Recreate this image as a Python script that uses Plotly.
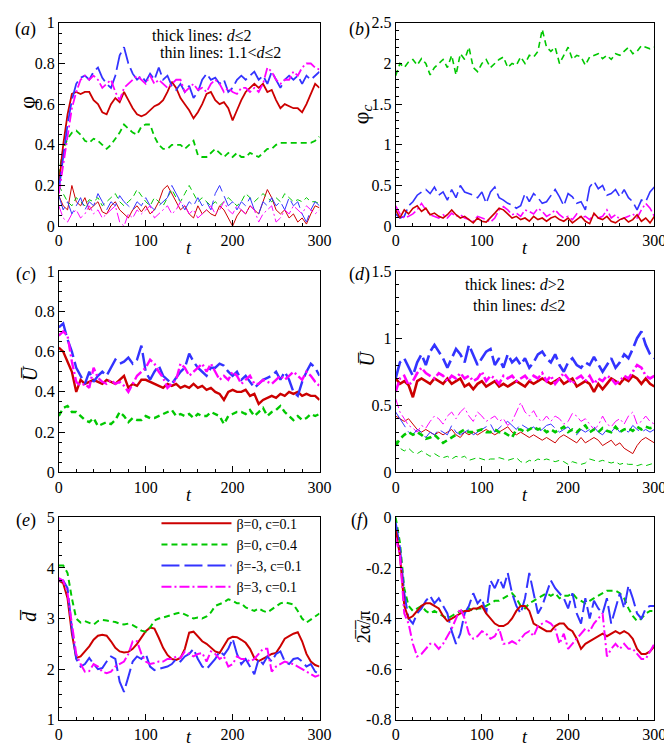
import plotly.graph_objects as go

T = list(range(0, 301, 5))

# ---------------- panel (a): phi ----------------
a_red_thick = [0.20,0.40,0.55,0.65,0.66,0.65,0.66,0.66,0.62,0.60,0.56,0.55,0.60,0.63,0.61,0.66,0.62,0.58,0.55,0.54,
               0.55,0.57,0.59,0.60,0.62,0.66,0.71,0.68,0.63,0.60,0.57,0.53,0.56,0.60,0.65,0.66,0.62,0.60,0.61,0.58,
               0.52,0.57,0.62,0.66,0.68,0.70,0.68,0.70,0.66,0.67,0.62,0.58,0.60,0.59,0.58,0.58,0.56,0.60,0.65,0.70,0.68]
a_green_thick = [0.25,0.38,0.43,0.46,0.47,0.45,0.42,0.41,0.43,0.42,0.40,0.38,0.40,0.43,0.46,0.50,0.48,0.46,0.45,0.49,
                 0.50,0.50,0.44,0.40,0.38,0.38,0.40,0.40,0.40,0.38,0.40,0.42,0.35,0.34,0.34,0.36,0.38,0.36,0.34,0.36,
                 0.34,0.36,0.34,0.34,0.36,0.35,0.34,0.36,0.38,0.38,0.40,0.41,0.41,0.41,0.41,0.41,0.41,0.41,0.41,0.42,0.44]
a_blue_thick = [0.18,0.35,0.50,0.62,0.70,0.73,0.74,0.72,0.76,0.78,0.73,0.70,0.68,0.74,0.84,0.88,0.80,0.75,0.72,0.74,
                0.71,0.75,0.72,0.78,0.72,0.74,0.69,0.67,0.70,0.66,0.69,0.63,0.66,0.72,0.75,0.72,0.73,0.70,0.72,0.66,
                0.68,0.72,0.74,0.72,0.74,0.76,0.72,0.74,0.70,0.76,0.72,0.68,0.72,0.74,0.72,0.74,0.70,0.74,0.72,0.74,0.76]
a_mag_thick = [0.16,0.30,0.45,0.58,0.66,0.72,0.74,0.72,0.74,0.72,0.68,0.70,0.72,0.66,0.62,0.68,0.70,0.72,0.74,0.72,
               0.70,0.74,0.70,0.72,0.70,0.68,0.70,0.72,0.72,0.66,0.68,0.70,0.67,0.68,0.66,0.70,0.72,0.70,0.66,0.68,
               0.66,0.65,0.68,0.68,0.66,0.68,0.66,0.70,0.78,0.76,0.72,0.70,0.72,0.72,0.76,0.74,0.78,0.80,0.80,0.78,0.77]
a_red_thin = [0.15,0.10,0.08,0.20,0.12,0.10,0.14,0.08,0.10,0.12,0.07,0.06,0.10,0.12,0.08,0.06,0.04,0.08,0.10,0.07,
              0.10,0.06,0.08,0.12,0.18,0.20,0.16,0.12,0.08,0.10,0.06,0.04,0.10,0.06,0.08,0.06,0.05,0.10,0.08,0.04,
              0.00,0.05,0.08,0.06,0.10,0.08,0.06,0.12,0.18,0.14,0.08,0.06,0.08,0.04,0.06,0.02,0.04,0.01,0.06,0.10,0.09]
a_green_thin = [0.20,0.16,0.12,0.10,0.14,0.12,0.10,0.13,0.12,0.14,0.10,0.12,0.14,0.16,0.12,0.10,0.12,0.14,0.18,0.15,
                0.12,0.10,0.14,0.12,0.10,0.14,0.18,0.14,0.12,0.16,0.20,0.16,0.12,0.14,0.12,0.10,0.12,0.10,0.12,0.14,
                0.12,0.10,0.12,0.16,0.14,0.12,0.14,0.16,0.14,0.12,0.14,0.12,0.16,0.14,0.12,0.13,0.12,0.14,0.12,0.12,0.11]
a_blue_thin = [0.15,0.08,0.12,0.06,0.10,0.14,0.08,0.12,0.10,0.16,0.12,0.08,0.12,0.10,0.15,0.12,0.10,0.08,0.12,0.10,
               0.14,0.10,0.08,0.10,0.12,0.14,0.20,0.16,0.12,0.08,0.12,0.10,0.14,0.10,0.12,0.08,0.16,0.20,0.15,0.10,
               0.12,0.08,0.12,0.10,0.14,0.08,0.06,0.12,0.10,0.14,0.10,0.12,0.08,0.14,0.10,0.12,0.06,0.02,0.08,0.12,0.10]
a_mag_thin = [0.10,0.04,0.02,0.06,0.08,0.04,0.06,0.10,0.06,0.08,0.04,0.06,0.08,0.10,0.02,0.00,0.06,0.04,0.08,0.06,
              0.08,0.10,0.04,0.06,0.08,0.10,0.06,0.08,0.12,0.10,0.06,0.08,0.04,0.06,0.08,0.10,0.06,0.08,0.12,0.08,
              0.06,0.10,0.08,0.06,0.10,0.08,0.02,0.06,0.08,0.10,0.02,0.04,0.08,0.06,0.10,0.08,0.06,0.10,0.08,0.06,0.08]

# ---------------- panel (b): phi_c ----------------
b_green = [1.85,2.00,1.95,2.02,2.05,1.98,2.06,2.00,1.86,1.95,2.00,2.05,1.95,2.10,1.86,2.12,2.05,2.20,1.95,1.90,
           2.00,2.05,1.95,2.00,2.05,2.08,1.95,2.00,1.98,2.08,2.00,2.10,2.08,2.15,2.42,2.20,2.15,2.20,2.00,2.10,
           2.20,2.05,2.10,2.08,1.98,2.08,2.10,2.12,2.06,2.10,2.05,2.12,2.10,2.15,2.20,2.12,2.15,2.22,2.20,2.18,2.20]
b_blue = [0.15,0.10,0.12,0.25,0.30,0.38,0.42,0.45,0.40,0.48,0.38,0.42,0.32,0.45,0.35,0.50,0.42,0.40,0.38,0.35,
          0.42,0.28,0.42,0.48,0.35,0.32,0.28,0.26,0.22,0.25,0.40,0.30,0.40,0.35,0.28,0.30,0.38,0.45,0.36,0.25,
          0.40,0.36,0.28,0.30,0.20,0.48,0.55,0.46,0.50,0.38,0.40,0.45,0.36,0.45,0.35,0.30,0.20,0.32,0.30,0.42,0.48]
b_red = [0.20,0.10,0.20,0.15,0.22,0.25,0.18,0.22,0.14,0.16,0.12,0.10,0.14,0.20,0.14,0.10,0.12,0.08,0.04,0.10,
         0.06,0.05,0.10,0.16,0.22,0.20,0.15,0.10,0.12,0.08,0.10,0.06,0.12,0.08,0.10,0.06,0.10,0.12,0.08,0.06,
         0.10,0.04,0.08,0.12,0.06,0.03,0.16,0.10,0.08,0.12,0.06,0.04,0.08,0.10,0.05,0.08,0.14,0.06,0.10,0.04,0.12]
b_mag = [0.25,0.15,0.10,0.12,0.15,0.20,0.28,0.20,0.14,0.12,0.10,0.14,0.10,0.16,0.12,0.14,0.10,0.08,0.06,0.12,
         0.10,0.08,0.05,0.10,0.20,0.24,0.20,0.14,0.16,0.12,0.20,0.18,0.15,0.22,0.18,0.12,0.15,0.20,0.14,0.10,
         0.12,0.08,0.15,0.10,0.12,0.08,0.14,0.10,0.12,0.20,0.10,0.14,0.08,0.10,0.12,0.15,0.10,0.20,0.28,0.22,0.12]

# ---------------- panel (c): U bar ----------------
c_red = [0.62,0.60,0.55,0.50,0.40,0.46,0.44,0.45,0.46,0.45,0.44,0.46,0.45,0.44,0.46,0.48,0.42,0.44,0.43,0.46,
         0.46,0.45,0.44,0.43,0.42,0.44,0.43,0.44,0.42,0.43,0.42,0.44,0.42,0.43,0.41,0.42,0.40,0.39,0.36,0.40,
         0.41,0.40,0.40,0.41,0.38,0.39,0.34,0.36,0.37,0.38,0.37,0.39,0.38,0.40,0.39,0.40,0.38,0.39,0.38,0.38,0.36]
c_green = [0.28,0.32,0.33,0.30,0.30,0.28,0.26,0.25,0.27,0.23,0.24,0.25,0.24,0.26,0.30,0.28,0.25,0.27,0.26,0.26,
           0.28,0.27,0.27,0.28,0.29,0.30,0.31,0.28,0.29,0.28,0.29,0.27,0.29,0.28,0.28,0.30,0.29,0.28,0.24,0.28,
           0.29,0.30,0.30,0.29,0.31,0.28,0.30,0.32,0.28,0.30,0.31,0.33,0.30,0.28,0.26,0.28,0.26,0.27,0.29,0.28,0.29]
c_blue = [0.72,0.74,0.66,0.60,0.52,0.48,0.44,0.50,0.45,0.48,0.50,0.48,0.52,0.56,0.54,0.55,0.57,0.54,0.56,0.63,
          0.50,0.46,0.50,0.53,0.48,0.46,0.44,0.47,0.50,0.52,0.59,0.55,0.52,0.50,0.48,0.52,0.52,0.54,0.53,0.50,
          0.48,0.50,0.46,0.48,0.45,0.42,0.44,0.46,0.47,0.48,0.50,0.46,0.50,0.46,0.40,0.38,0.45,0.50,0.54,0.52,0.48]
c_mag = [0.68,0.70,0.68,0.55,0.45,0.43,0.44,0.42,0.52,0.47,0.45,0.44,0.46,0.44,0.45,0.43,0.40,0.44,0.48,0.50,
         0.52,0.56,0.54,0.50,0.47,0.42,0.44,0.46,0.54,0.52,0.48,0.50,0.52,0.54,0.50,0.54,0.50,0.46,0.48,0.46,
         0.50,0.48,0.44,0.46,0.48,0.44,0.44,0.46,0.45,0.44,0.46,0.48,0.46,0.48,0.50,0.48,0.46,0.50,0.48,0.45,0.43]

# ---------------- panel (d): U bar, d>2 (thick) and d<=2 (thin) ----------------
d_blue_thick = [0.70,0.82,0.85,0.78,0.72,0.82,0.88,0.80,0.90,0.95,0.90,0.85,0.78,0.85,0.92,0.88,0.82,0.95,0.88,0.80,
                0.85,0.90,0.92,0.80,0.85,0.78,0.88,0.82,0.85,0.80,0.85,0.78,0.82,0.88,0.90,0.85,0.82,0.88,0.80,0.75,
                0.82,0.85,0.80,0.78,0.82,0.80,0.86,0.80,0.75,0.80,0.85,0.78,0.82,0.88,0.85,0.92,1.00,1.05,0.95,0.88,0.85]
d_mag_thick = [0.60,0.70,0.72,0.65,0.68,0.74,0.78,0.74,0.72,0.70,0.74,0.72,0.68,0.72,0.70,0.74,0.70,0.72,0.68,0.70,
               0.75,0.68,0.72,0.70,0.66,0.72,0.70,0.72,0.68,0.70,0.72,0.68,0.72,0.70,0.74,0.68,0.72,0.66,0.70,0.74,
               0.70,0.66,0.70,0.72,0.68,0.72,0.66,0.70,0.68,0.72,0.70,0.66,0.68,0.72,0.70,0.75,0.80,0.78,0.72,0.70,0.72]
d_red_thick = [0.70,0.66,0.68,0.65,0.56,0.68,0.70,0.68,0.66,0.70,0.68,0.66,0.70,0.66,0.68,0.70,0.64,0.66,0.62,0.66,
               0.68,0.64,0.66,0.68,0.64,0.66,0.64,0.66,0.68,0.66,0.64,0.68,0.66,0.68,0.70,0.68,0.66,0.68,0.70,0.66,
               0.68,0.70,0.64,0.66,0.68,0.66,0.60,0.66,0.62,0.66,0.70,0.68,0.66,0.70,0.68,0.72,0.70,0.66,0.70,0.66,0.64]
d_green_thick = [0.20,0.25,0.28,0.30,0.28,0.30,0.28,0.25,0.26,0.28,0.25,0.22,0.24,0.26,0.28,0.30,0.32,0.30,0.30,0.31,
                 0.32,0.30,0.30,0.32,0.30,0.30,0.28,0.26,0.32,0.32,0.30,0.32,0.34,0.32,0.33,0.30,0.32,0.30,0.32,0.34,
                 0.30,0.32,0.30,0.33,0.35,0.30,0.32,0.30,0.33,0.31,0.30,0.34,0.30,0.32,0.33,0.31,0.34,0.32,0.34,0.33,0.34]
d_mag_thin = [0.55,0.45,0.40,0.35,0.33,0.30,0.35,0.33,0.38,0.42,0.40,0.36,0.42,0.45,0.40,0.45,0.48,0.42,0.38,0.45,
              0.42,0.38,0.40,0.42,0.38,0.40,0.35,0.38,0.45,0.52,0.45,0.42,0.46,0.40,0.38,0.42,0.38,0.42,0.40,0.36,
              0.38,0.44,0.42,0.38,0.40,0.36,0.32,0.35,0.42,0.36,0.34,0.38,0.40,0.36,0.42,0.45,0.36,0.38,0.42,0.38,0.36]
d_blue_thin = [0.45,0.40,0.35,0.30,0.28,0.32,0.30,0.26,0.30,0.28,0.32,0.30,0.28,0.35,0.30,0.28,0.30,0.32,0.28,0.30,
               0.32,0.34,0.36,0.30,0.33,0.36,0.38,0.35,0.32,0.36,0.34,0.32,0.34,0.30,0.32,0.35,0.36,0.33,0.30,0.32,
               0.34,0.30,0.28,0.32,0.30,0.32,0.34,0.30,0.28,0.32,0.30,0.34,0.30,0.32,0.30,0.35,0.32,0.30,0.32,0.30,0.32]
d_red_thin = [0.42,0.40,0.38,0.40,0.36,0.32,0.30,0.32,0.30,0.28,0.30,0.28,0.30,0.32,0.28,0.26,0.30,0.28,0.30,0.28,
              0.30,0.32,0.30,0.28,0.30,0.32,0.34,0.30,0.28,0.30,0.28,0.26,0.28,0.26,0.24,0.26,0.24,0.22,0.26,0.28,
              0.26,0.24,0.22,0.26,0.22,0.24,0.26,0.24,0.20,0.22,0.24,0.20,0.22,0.18,0.16,0.14,0.20,0.24,0.26,0.24,0.22]
d_green_thin = [0.24,0.18,0.16,0.18,0.15,0.14,0.16,0.14,0.12,0.14,0.12,0.11,0.12,0.10,0.12,0.11,0.12,0.09,0.10,0.11,
                0.10,0.09,0.10,0.10,0.11,0.10,0.09,0.10,0.11,0.08,0.07,0.09,0.08,0.10,0.09,0.10,0.09,0.08,0.09,0.08,
                0.06,0.08,0.07,0.06,0.07,0.10,0.09,0.08,0.09,0.08,0.07,0.08,0.06,0.07,0.06,0.06,0.05,0.06,0.05,0.06,0.07]

# ---------------- panel (e): d bar ----------------
e_red = [3.75,3.70,3.40,2.70,2.22,2.25,2.35,2.45,2.58,2.66,2.68,2.66,2.55,2.42,2.35,2.33,2.34,2.40,2.50,2.62,
         2.75,2.82,2.80,2.62,2.42,2.28,2.20,2.18,2.22,2.40,2.72,2.74,2.65,2.55,2.50,2.42,2.35,2.32,2.45,2.60,
         2.64,2.63,2.58,2.52,2.40,2.22,2.16,2.20,2.25,2.30,2.32,2.45,2.60,2.65,2.70,2.73,2.55,2.30,2.15,2.08,2.05]
e_green = [4.05,4.05,3.90,3.40,3.00,2.92,2.95,2.92,2.88,2.95,2.97,2.96,2.95,2.93,2.90,2.88,2.90,2.87,2.82,2.76,
           2.74,2.82,2.96,3.00,3.02,3.05,3.08,3.10,3.12,3.08,3.05,3.00,3.02,3.00,3.04,3.12,3.25,3.28,3.32,3.38,
           3.35,3.30,3.30,3.22,3.18,3.15,3.20,3.15,3.12,3.18,3.25,3.30,3.32,3.30,3.28,3.15,3.00,2.92,2.98,3.05,3.10]
e_blue = [3.75,3.75,3.60,2.80,2.20,2.05,2.10,2.22,2.10,2.00,2.02,2.15,2.25,2.20,1.75,1.55,1.85,2.15,2.25,2.20,
          2.30,2.05,1.98,2.00,2.02,2.05,2.10,2.20,2.15,2.25,2.30,2.40,2.20,2.05,2.00,2.10,2.20,2.35,2.28,2.40,
          2.60,2.30,2.10,2.20,2.05,1.90,2.20,2.10,2.25,2.15,2.30,2.35,2.15,2.10,2.20,2.22,2.15,2.05,2.10,1.95,1.90]
e_mag = [3.80,3.75,3.50,2.90,2.30,2.10,1.95,1.96,2.10,2.05,1.95,1.92,1.95,2.05,2.10,2.15,2.30,2.55,2.55,2.30,
         2.15,2.10,2.12,2.15,2.15,2.20,2.20,2.25,2.22,2.35,2.30,2.25,2.30,2.32,2.15,2.35,2.30,2.20,2.25,2.05,
         2.10,2.25,2.20,2.20,2.15,2.20,2.30,2.40,2.40,1.95,2.05,2.10,2.15,2.12,2.10,2.05,2.00,1.95,1.90,1.85,1.88]

# ---------------- panel (f): 2 alpha bar / pi ----------------
f_red = [-0.05,-0.15,-0.35,-0.40,-0.39,-0.37,-0.35,-0.34,-0.34,-0.35,-0.36,-0.39,-0.41,-0.40,-0.39,-0.38,-0.37,-0.37,-0.36,-0.36,
         -0.35,-0.38,-0.40,-0.42,-0.43,-0.43,-0.42,-0.40,-0.37,-0.35,-0.35,-0.37,-0.42,-0.43,-0.44,-0.45,-0.45,-0.43,-0.42,-0.42,
         -0.44,-0.45,-0.48,-0.52,-0.50,-0.49,-0.48,-0.47,-0.46,-0.47,-0.46,-0.45,-0.46,-0.45,-0.46,-0.48,-0.52,-0.54,-0.54,-0.53,-0.51]
f_green = [0.00,-0.10,-0.28,-0.35,-0.37,-0.36,-0.35,-0.37,-0.38,-0.37,-0.38,-0.39,-0.40,-0.39,-0.38,-0.37,-0.37,-0.36,-0.37,-0.36,
           -0.36,-0.35,-0.34,-0.33,-0.33,-0.32,-0.31,-0.30,-0.32,-0.35,-0.36,-0.34,-0.33,-0.32,-0.31,-0.30,-0.31,-0.30,-0.32,-0.31,
           -0.31,-0.30,-0.32,-0.33,-0.34,-0.33,-0.32,-0.31,-0.30,-0.29,-0.29,-0.29,-0.30,-0.32,-0.36,-0.39,-0.41,-0.40,-0.38,-0.37,-0.37]
f_blue = [-0.02,-0.12,-0.30,-0.40,-0.42,-0.38,-0.36,-0.33,-0.31,-0.34,-0.32,-0.35,-0.38,-0.45,-0.50,-0.46,-0.38,-0.35,-0.30,-0.34,
          -0.32,-0.38,-0.25,-0.28,-0.24,-0.28,-0.22,-0.30,-0.35,-0.38,-0.32,-0.22,-0.30,-0.38,-0.35,-0.30,-0.25,-0.28,-0.30,-0.32,
          -0.36,-0.30,-0.38,-0.42,-0.32,-0.40,-0.33,-0.36,-0.38,-0.32,-0.42,-0.36,-0.30,-0.36,-0.27,-0.32,-0.38,-0.40,-0.36,-0.35,-0.35]
f_mag = [-0.08,-0.15,-0.38,-0.42,-0.50,-0.55,-0.54,-0.52,-0.50,-0.50,-0.52,-0.50,-0.47,-0.44,-0.40,-0.36,-0.40,-0.46,-0.48,-0.47,
         -0.45,-0.46,-0.48,-0.47,-0.44,-0.50,-0.50,-0.49,-0.50,-0.48,-0.46,-0.45,-0.47,-0.43,-0.42,-0.41,-0.42,-0.44,-0.50,-0.46,
         -0.52,-0.50,-0.48,-0.46,-0.44,-0.45,-0.42,-0.40,-0.38,-0.55,-0.52,-0.50,-0.52,-0.50,-0.52,-0.52,-0.54,-0.56,-0.56,-0.53,-0.50]

legend_names = ["β=0, c=0.1", "β=0, c=0.4", "β=-3, c=0.1", "β=3, c=0.1"]

RED, GREEN, BLUE, MAG = "#CC0000", "#00C800", "#3333FF", "#FF00FF"
DASH = {"red": "solid", "green": "6px,4px", "blue": "18px,5px", "mag": "10px,3px,2px,3px"}
COL = {"red": RED, "green": GREEN, "blue": BLUE, "mag": MAG}

fig = go.Figure()


def add(n, key, y, width, name=None):
    suf = "" if n == 1 else str(n)
    fig.add_trace(go.Scatter(
        x=T, y=y, mode="lines", xaxis="x" + suf, yaxis="y" + suf,
        line=dict(color=COL[key], width=width, dash=DASH[key]),
        name=name if name else key, showlegend=name is not None,
        hoverinfo="skip"))


# (a)
for k, y in [("red", a_red_thin), ("green", a_green_thin), ("blue", a_blue_thin), ("mag", a_mag_thin)]:
    add(1, k, y, 1)
for k, y in [("green", a_green_thick), ("red", a_red_thick), ("blue", a_blue_thick), ("mag", a_mag_thick)]:
    add(1, k, y, 1.8)
# (b)
for k, y in [("green", b_green), ("blue", b_blue), ("mag", b_mag), ("red", b_red)]:
    add(2, k, y, 1.6)
# (c)
for k, y in [("green", c_green), ("red", c_red), ("blue", c_blue), ("mag", c_mag)]:
    add(3, k, y, 2.4)
# (d)
for k, y in [("red", d_red_thin), ("green", d_green_thin), ("blue", d_blue_thin), ("mag", d_mag_thin)]:
    add(4, k, y, 1)
for k, y in [("green", d_green_thick), ("blue", d_blue_thick), ("red", d_red_thick), ("mag", d_mag_thick)]:
    add(4, k, y, 2.6)
# (e)
for (k, y), nm in zip([("red", e_red), ("green", e_green), ("blue", e_blue), ("mag", e_mag)], legend_names):
    add(5, k, y, 2, nm)
# (f)
for k, y in [("green", f_green), ("blue", f_blue), ("red", f_red), ("mag", f_mag)]:
    add(6, k, y, 2)

W, H = 672, 750
FONT = "Liberation Serif"
LX = [48 / W, 315 / W]
RX = [393 / W, 658 / W]
ROWS = [[1 - 215 / H, 1 - 7 / H], [1 - 467 / H, 1 - 261 / H], [1 - 720 / H, 1 - 513 / H]]

common = dict(showline=True, linecolor="black", linewidth=1, mirror=True, ticks="inside",
              ticklen=6, tickwidth=1, tickcolor="black", showgrid=False, zeroline=False,
              tickfont=dict(family=FONT, size=16, color="black"))

yinfo = {
    1: dict(range=[0, 1], dtick=0.2, minor=0.05),
    2: dict(range=[0, 2.5], dtick=0.5, minor=0.1),
    3: dict(range=[0, 1], dtick=0.2, minor=0.05),
    4: dict(range=[0, 1.5], dtick=0.5, minor=0.1),
    5: dict(range=[1, 5], dtick=1, minor=0.25),
    6: dict(range=[-0.8, 0], dtick=0.2, minor=0.05),
}

layout = dict(width=W, height=H, margin=dict(l=0, r=0, t=0, b=0),
              plot_bgcolor="white", paper_bgcolor="white",
              font=dict(family=FONT, color="black"))
for n in range(1, 7):
    suf = "" if n == 1 else str(n)
    row = (n - 1) // 2
    xd = LX if n % 2 == 1 else RX
    xa = dict(common, domain=xd, range=[0, 300], dtick=100, tick0=0,
              minor=dict(ticks="inside", ticklen=3, dtick=20, tickcolor="black"),
              anchor="y" + suf)
    yi = yinfo[n]
    ya = dict(common, domain=ROWS[row], range=yi["range"], dtick=yi["dtick"],
              minor=dict(ticks="inside", ticklen=3, dtick=yi["minor"], tickcolor="black"),
              anchor="x" + suf)
    if n == 6:
        vals = [-0.8, -0.6, -0.4, -0.2, 0]
        ya["tickvals"] = vals
        ya["ticktext"] = ["-0.8", "-0.6", "-0.4", "-0.2", "0"]
    layout["xaxis" + suf] = xa
    layout["yaxis" + suf] = ya

layout["legend"] = dict(x=148 / W, y=1 - 503 / H, xanchor="left", yanchor="top",
                        bgcolor="rgba(0,0,0,0)", font=dict(family=FONT, size=14),
                        itemwidth=70, tracegroupgap=0)

fig.update_layout(**layout)


def ann(px, py, text, size=16, angle=0, xanchor="center"):
    fig.add_annotation(x=px / W, y=1 - py / H, xref="paper", yref="paper", text=text,
                       showarrow=False, textangle=angle, xanchor=xanchor, yanchor="middle",
                       font=dict(family=FONT, size=size, color="black"))


# panel labels
for px, py, lab in [(14, 14, "a"), (356, 14, "b"), (14, 265, "c"), (356, 265, "d"), (14, 516, "e"), (356, 516, "f")]:
    ann(px, py, "(<i>%s</i>)" % lab, 18)

# x titles
for px in [181, 525]:
    for py in [237, 490, 738]:
        ann(px, py, "<i>t</i>", 18)

# y titles
ann(14, 88, "φ", 22, -90)
ann(358, 100, "φ<sub><i>c</i></sub>", 22, -90)
ann(18, 366, "<i>U\u0305</i>", 20, -90)
ann(364, 350, "<i>U\u0305</i>", 20, -90)
ann(18, 613, "<i>d\u0305</i>", 20, -90)
ann(360, 625, "2\u0305α\u0305/π", 18, -90)

# annotations text
ann(247, 20, "thick lines: <i>d</i>≤2", 16, 0, "right")
ann(278, 37, "thin lines: 1.1&lt;<i>d</i>≤2", 16, 0, "right")
ann(569, 275, "thick lines: <i>d</i>&gt;2", 16, 0, "right")
ann(569, 296, "thin lines: <i>d</i>≤2", 16, 0, "right")

fig.write_html("out.html")
